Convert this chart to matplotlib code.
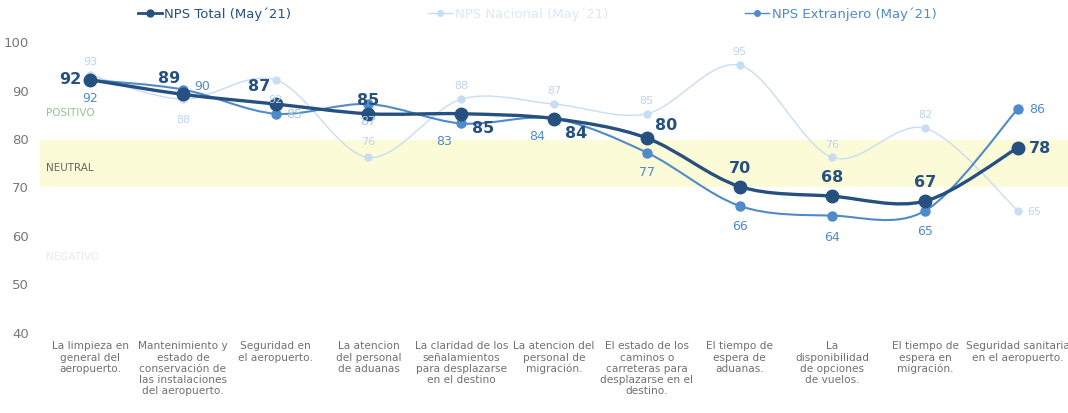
import numpy as np
import matplotlib.pyplot as plt
from matplotlib.path import Path
from matplotlib.patches import PathPatch
from matplotlib.lines import Line2D

categories = [
    "La limpieza en\ngeneral del\naeropuerto.",
    "Mantenimiento y\nestado de\nconservación de\nlas instalaciones\ndel aeropuerto.",
    "Seguridad en\nel aeropuerto.",
    "La atencion\ndel personal\nde aduanas",
    "La claridad de los\nseñalamientos\npara desplazarse\nen el destino",
    "La atencion del\npersonal de\nmigración.",
    "El estado de los\ncaminos o\ncarreteras para\ndesplazarse en el\ndestino.",
    "El tiempo de\nespera de\naduanas.",
    "La\ndisponibilidad\nde opciones\nde vuelos.",
    "El tiempo de\nespera en\nmigración.",
    "Seguridad sanitaria\nen el aeropuerto.",
]
nps_total = [92, 89, 87, 85, 85, 84, 80, 70, 68, 67, 78]
nps_nacional = [93, 88, 92, 76, 88, 87, 85, 95, 76, 82, 65]
nps_extranjero = [92, 90, 85, 87, 83, 84, 77, 66, 64, 65, 86]
y_ticks = [40, 50, 60, 70, 80, 90, 100]

c_total = "#26507f"
c_ext = "#4f8bc8"
c_nac = "#c9ddf2"


def smooth_path(xs, ys, k=0.16):
    # catmull-rom style bezier through the points
    pts = np.column_stack([xs, ys]).astype(float)
    verts = [pts[0]]
    codes = [Path.MOVETO]
    n = len(pts)
    for i in range(n - 1):
        p0 = pts[i - 1] if i > 0 else pts[i]
        p1 = pts[i]
        p2 = pts[i + 1]
        p3 = pts[i + 2] if i + 2 < n else pts[i + 1]
        verts += [p1 + (p2 - p0) * k, p2 - (p3 - p1) * k, p2]
        codes += [Path.CURVE4] * 3
    return Path(verts, codes)


fig = plt.figure(figsize=(10.68, 4.14), dpi=100)
ax = fig.add_axes([40 / 1068, 1 - 333 / 414, 1 - 40 / 1068, (333 - 42) / 414])
x = np.arange(len(categories))

ax.axhspan(70, 79.5, color="#fcfbd8", zorder=0, lw=0)

series = [
    (nps_nacional, c_nac, 1.0, 5),
    (nps_extranjero, c_ext, 1.5, 6.5),
    (nps_total, c_total, 2.4, 9),
]
for vals, col, lw, ms in series:
    ax.add_patch(PathPatch(smooth_path(x, vals), fill=False, edgecolor=col, lw=lw, zorder=2))
    ax.plot(x, vals, ls="none", marker="o", color=col, ms=ms, zorder=3)

# labels for the light series
nac_off = [(0, 10), (0, -14), (0, -14), (0, 12), (0, 10), (0, 10), (0, 10), (0, 10), (0, 10), (0, 10), (12, 0)]
for xi, v, off in zip(x, nps_nacional, nac_off):
    ax.annotate(str(v), (xi, v), xytext=off, textcoords="offset points", ha="center",
                va="center", fontsize=8, color="#bcd5ef")

ext_off = [(0, -13), (14, 3), (13, 0), (0, -12), (-12, -12), (-12, -12), (0, -14), (0, -14),
           (0, -15), (0, -14), (14, 0)]
for xi, v, off in zip(x, nps_extranjero, ext_off):
    ax.annotate(str(v), (xi, v), xytext=off, textcoords="offset points", ha="center",
                va="center", fontsize=9, color=c_ext if xi not in (2, 3) else "#a9c6e6")

tot_off = [(-14, 1), (-10, 12), (-12, 13), (0, 10), (16, -10), (16, -10), (14, 10), (0, 14),
           (0, 14), (0, 14), (16, 0)]
for xi, v, off in zip(x, nps_total, tot_off):
    ax.annotate(str(v), (xi, v), xytext=off, textcoords="offset points", ha="center",
                va="center", fontsize=11.5, fontweight="bold", color=c_total)

# zone labels
ax.text(-0.48, 85.4, "POSITIVO", fontsize=7.5, color="#96c093", va="center")
ax.text(-0.48, 74, "NEUTRAL", fontsize=7.5, color="#666666", va="center")
ax.text(-0.48, 55.7, "NEGATIVO", fontsize=7.5, color="#ece6f2", va="center")

ax.set_xlim(-0.54, 10.54)
ax.set_ylim(40, 100)
ax.set_yticks(y_ticks)
ax.set_yticklabels([str(t) for t in y_ticks], fontsize=9.5, color="#777777")
ax.set_xticks(x)
ax.set_xticklabels(categories, fontsize=7.6, color="#707070", linespacing=1.15, va="top")
ax.tick_params(length=0, axis="y", pad=8)
ax.tick_params(length=0, axis="x", pad=6)
for s in ax.spines.values():
    s.set_visible(False)

handles = [
    Line2D([], [], color=c_total, lw=2, marker="o", ms=5),
    Line2D([], [], color=c_nac, lw=1, marker="o", ms=4),
    Line2D([], [], color=c_ext, lw=1, marker="o", ms=4),
]
labels = ["NPS Total (May´21)", "NPS Nacional (May´21)", "NPS Extranjero (May´21)"]
leg = fig.legend(handles, labels, loc="center", bbox_to_anchor=(0.503, 0.965), ncol=3,
                 frameon=False, fontsize=9.5, handlelength=1.8, handletextpad=0.2,
                 columnspacing=10.4)
for t, col in zip(leg.get_texts(), [c_total, "#dbe8f6", c_ext]):
    t.set_color(col)

fig.savefig("out.png", dpi=100)
